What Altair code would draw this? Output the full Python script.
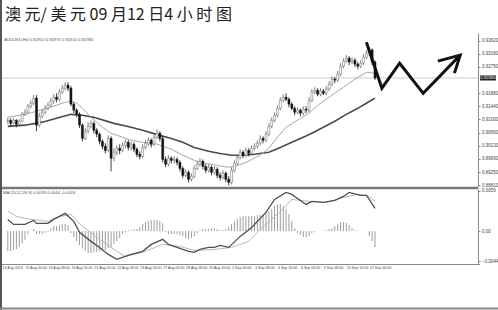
import altair as alt
import pandas as pd

# ---------------- text ----------------
title_text = "澳 元/ 美 元 09 月12 日4 小 时 图"
main_header = "AUDUSD,H4  0.92910 0.92970 0.92310 0.92380"
macd_header = "MACD(12,26,9) 0.0033 0.0044 -0.0024"
last_price = 0.9238
last_price_label = "0.92380"

# ---------------- candles (bar index 2..130) ----------------
bars = list(range(2, 131))
opens = [0.9094, 0.9097, 0.9087, 0.9097, 0.9084, 0.9094, 0.9117, 0.9124, 0.9144, 0.9154,
         0.9171, 0.9081, 0.9111, 0.9124, 0.9137, 0.9147, 0.9161, 0.9174, 0.9167, 0.9191,
         0.9204, 0.9214, 0.9204, 0.9151, 0.9131, 0.9117, 0.9081, 0.9037, 0.9061, 0.9077,
         0.9087, 0.9064, 0.9051, 0.9027, 0.9011, 0.8997, 0.9037, 0.8971, 0.8991, 0.9004,
         0.8997, 0.9014, 0.9024, 0.9007, 0.9017, 0.9001, 0.8984, 0.8977, 0.9007, 0.9021,
         0.9031, 0.9017, 0.9041, 0.9054, 0.9037, 0.8967, 0.8951, 0.8971, 0.8964, 0.8967,
         0.8957, 0.8937, 0.8914, 0.8924, 0.8901, 0.8911, 0.8937, 0.8951, 0.8961, 0.8944,
         0.8931, 0.8941, 0.8924, 0.8934, 0.8914, 0.8907, 0.8921, 0.8901, 0.8891, 0.8931,
         0.8954, 0.8974, 0.8991, 0.8981, 0.8997, 0.8987, 0.9004, 0.9011, 0.9021, 0.9037,
         0.9031, 0.9051, 0.9077, 0.9097, 0.9114, 0.9137, 0.9164, 0.9174, 0.9167, 0.9151,
         0.9137, 0.9124, 0.9131, 0.9121, 0.9134, 0.9131, 0.9164, 0.9191, 0.9197, 0.9184,
         0.9194, 0.9187, 0.9201, 0.9217, 0.9234, 0.9231, 0.9251, 0.9277, 0.9294, 0.9304,
         0.9291, 0.9297, 0.9284, 0.9277, 0.9287, 0.9307, 0.9321, 0.9331, 0.9291]
highs = [0.9107, 0.9104, 0.9104, 0.9101, 0.9101, 0.9124, 0.9134, 0.9151, 0.9164, 0.9181,
         0.9181, 0.9121, 0.9134, 0.9147, 0.9157, 0.9171, 0.9184, 0.9187, 0.9201, 0.9214,
         0.9224, 0.9224, 0.9211, 0.9157, 0.9137, 0.9124, 0.9087, 0.9071, 0.9091, 0.9097,
         0.9094, 0.9071, 0.9057, 0.9034, 0.9021, 0.9047, 0.9044, 0.9004, 0.9014, 0.9017,
         0.9024, 0.9034, 0.9031, 0.9027, 0.9024, 0.9007, 0.8994, 0.9017, 0.9031, 0.9041,
         0.9037, 0.9051, 0.9067, 0.9061, 0.9044, 0.8977, 0.8981, 0.8977, 0.8977, 0.8974,
         0.8964, 0.8944, 0.8934, 0.8931, 0.8921, 0.8947, 0.8961, 0.8971, 0.8967, 0.8951,
         0.8951, 0.8947, 0.8944, 0.8941, 0.8924, 0.8931, 0.8927, 0.8911, 0.8941, 0.8964,
         0.8984, 0.9001, 0.8997, 0.9007, 0.9004, 0.9014, 0.9021, 0.9031, 0.9047, 0.9044,
         0.9061, 0.9087, 0.9107, 0.9124, 0.9147, 0.9174, 0.9184, 0.9187, 0.9174, 0.9157,
         0.9144, 0.9141, 0.9137, 0.9144, 0.9144, 0.9174, 0.9201, 0.9207, 0.9204, 0.9204,
         0.9201, 0.9211, 0.9227, 0.9244, 0.9241, 0.9261, 0.9287, 0.9304, 0.9314, 0.9311,
         0.9307, 0.9304, 0.9291, 0.9297, 0.9317, 0.9331, 0.9341, 0.9337, 0.9297]
lows = [0.9084, 0.9077, 0.9084, 0.9074, 0.9081, 0.9091, 0.9111, 0.9121, 0.9137, 0.9147,
        0.9061, 0.9074, 0.9104, 0.9117, 0.9131, 0.9141, 0.9151, 0.9157, 0.9161, 0.9184,
        0.9197, 0.9194, 0.9144, 0.9121, 0.9107, 0.9071, 0.9027, 0.9031, 0.9054, 0.9071,
        0.9054, 0.9041, 0.9017, 0.9001, 0.8987, 0.8991, 0.8927, 0.8961, 0.8981, 0.8984,
        0.8991, 0.9004, 0.8997, 0.8997, 0.8991, 0.8974, 0.8967, 0.8971, 0.9001, 0.9011,
        0.9007, 0.9011, 0.9034, 0.9027, 0.8957, 0.8941, 0.8944, 0.8954, 0.8954, 0.8947,
        0.8927, 0.8904, 0.8907, 0.8891, 0.8894, 0.8904, 0.8931, 0.8944, 0.8934, 0.8921,
        0.8924, 0.8914, 0.8917, 0.8904, 0.8897, 0.8901, 0.8891, 0.8881, 0.8884, 0.8924,
        0.8947, 0.8967, 0.8971, 0.8974, 0.8977, 0.8981, 0.8997, 0.9004, 0.9014, 0.9021,
        0.9024, 0.9044, 0.9071, 0.9091, 0.9107, 0.9131, 0.9157, 0.9161, 0.9141, 0.9131,
        0.9114, 0.9117, 0.9111, 0.9114, 0.9121, 0.9124, 0.9157, 0.9184, 0.9177, 0.9177,
        0.9181, 0.9181, 0.9194, 0.9211, 0.9221, 0.9224, 0.9244, 0.9271, 0.9287, 0.9281,
        0.9284, 0.9274, 0.9267, 0.9271, 0.9281, 0.9301, 0.9311, 0.9281, 0.9231]
closes = [0.9097, 0.9087, 0.9097, 0.9084, 0.9094, 0.9117, 0.9124, 0.9144, 0.9154, 0.9171,
          0.9081, 0.9111, 0.9124, 0.9137, 0.9147, 0.9161, 0.9174, 0.9167, 0.9191, 0.9204,
          0.9214, 0.9204, 0.9151, 0.9131, 0.9117, 0.9081, 0.9037, 0.9061, 0.9077, 0.9087,
          0.9064, 0.9051, 0.9027, 0.9011, 0.8997, 0.9037, 0.8971, 0.8991, 0.9004, 0.8997,
          0.9014, 0.9024, 0.9007, 0.9017, 0.9001, 0.8984, 0.8977, 0.9007, 0.9021, 0.9031,
          0.9017, 0.9041, 0.9054, 0.9037, 0.8967, 0.8951, 0.8971, 0.8964, 0.8967, 0.8957,
          0.8937, 0.8914, 0.8924, 0.8901, 0.8911, 0.8937, 0.8951, 0.8961, 0.8944, 0.8931,
          0.8941, 0.8924, 0.8934, 0.8914, 0.8907, 0.8921, 0.8901, 0.8891, 0.8931, 0.8954,
          0.8974, 0.8991, 0.8981, 0.8997, 0.8987, 0.9004, 0.9011, 0.9021, 0.9037, 0.9031,
          0.9051, 0.9077, 0.9097, 0.9114, 0.9137, 0.9164, 0.9174, 0.9167, 0.9151, 0.9137,
          0.9124, 0.9131, 0.9121, 0.9134, 0.9131, 0.9164, 0.9191, 0.9197, 0.9184, 0.9194,
          0.9187, 0.9201, 0.9217, 0.9234, 0.9231, 0.9251, 0.9277, 0.9294, 0.9304, 0.9291,
          0.9297, 0.9284, 0.9277, 0.9287, 0.9307, 0.9321, 0.9331, 0.9291, 0.9238]
hist = [-0.00294, -0.00294, -0.00279, -0.00265, -0.00235, -0.00176, -0.00132, -0.00044, 0.0, 0.00029,
        -0.00044, -0.00044, -0.00044, -0.00029, -0.00015, 0.00044, 0.00074, 0.00074, 0.00088, 0.00103,
        0.00103, 0.00088, -0.00029, -0.00088, -0.00147, -0.00206, -0.0025, -0.00294, -0.00323, -0.00323,
        -0.00309, -0.00309, -0.00294, -0.00294, -0.00279, -0.0025, -0.00235, -0.00191, -0.00147, -0.00103,
        -0.00044, -0.00015, 0.00015, 0.00015, 0.00029, 0.00029, 0.00059, 0.00103, 0.00132, 0.00147,
        0.00162, 0.00162, 0.00162, 0.00147, 0.00118, -0.00015, -0.00044, -0.00044, -0.00044, -0.00044,
        -0.00059, -0.00074, -0.00103, -0.00118, -0.00103, -0.00074, -0.00029, 0.00015, 0.00029, 0.00029,
        0.00029, 0.00044, 0.00044, 0.00029, 0.00015, 0.00015, 0.00029, 0.00059, 0.00103, 0.00147,
        0.00176, 0.00206, 0.0022, 0.0022, 0.0022, 0.0022, 0.0022, 0.00235, 0.00235, 0.0025,
        0.00265, 0.00294, 0.00323, 0.00368, 0.00397, 0.00397, 0.00368, 0.00323, 0.0025, 0.00147,
        0.00044, -0.00029, -0.00059, -0.00088, -0.00088, -0.00074, -0.00029, -0.00015, 0.0, 0.0,
        0.00007, 0.00015, 0.00029, 0.00044, 0.00074, 0.00103, 0.00132, 0.00132, 0.00118, 0.00088,
        0.00044, 0.00015, 0.00007, 0.0, 0.0, 0.0, -0.00074, -0.00147, -0.00235]

# ---------------- moving averages ----------------
ma_fast_bar = [2, 8, 12, 17, 21, 24, 26, 28, 31, 35, 38, 42, 45, 49, 53, 56, 59, 63, 67, 71,
               75, 79, 82, 85, 90, 93, 96, 99, 104, 107, 110, 114, 119, 123, 127, 130]
ma_fast_val = [0.9107, 0.9117, 0.9127, 0.9141, 0.9154, 0.9161, 0.9154, 0.9137, 0.9107, 0.9074,
               0.9054, 0.9041, 0.9031, 0.9024, 0.9021, 0.9011, 0.9001, 0.8981, 0.8964, 0.8954,
               0.8947, 0.8941, 0.8947, 0.8957, 0.8981, 0.9004, 0.9041, 0.9074, 0.9104, 0.9121,
               0.9147, 0.9174, 0.9207, 0.9234, 0.9257, 0.9254]
ma_slow_bar = [2, 8, 14, 19, 24, 28, 32, 39, 45, 49, 55, 59, 63, 67, 72, 76, 80, 84, 88, 93,
               97, 101, 105, 108, 112, 116, 120, 124, 127, 130]
ma_slow_val = [0.9077, 0.9081, 0.9091, 0.9104, 0.9117, 0.9114, 0.9107, 0.9087, 0.9074, 0.9064,
               0.9047, 0.9037, 0.9024, 0.9007, 0.8994, 0.8987, 0.8981, 0.8981, 0.8984, 0.8991,
               0.9007, 0.9024, 0.9041, 0.9054, 0.9074, 0.9094, 0.9117, 0.9137, 0.9154, 0.9171]

# ---------------- MACD lines ----------------
macd_bar = [2, 4, 8, 11, 12, 16, 18, 20, 22, 25, 27, 31, 34, 37, 40, 43, 45, 49, 52, 56,
            58, 61, 65, 67, 69, 72, 74, 76, 79, 83, 87, 92, 95, 99, 101, 104, 106, 108, 112, 116,
            119, 121, 125, 127, 128, 130]
macd_val = [0.00172, 0.00098, 0.00098, 0.00157, 0.00113, 0.00113, 0.00172, 0.00216, 0.0026, 0.00143,
            -0.00019, -0.00151, -0.0024, -0.00343, -0.00416, -0.00372, -0.00343, -0.00298, -0.00196, -0.00122,
            -0.00196, -0.0024, -0.00298, -0.00313, -0.00269, -0.0024, -0.0024, -0.0021, -0.0024, -0.00078,
            0.00054, 0.00275, 0.00466, 0.00569, 0.0054, 0.00451, 0.00392, 0.00437, 0.00422, 0.00451,
            0.0051, 0.00569, 0.00525, 0.00525, 0.00466, 0.00334]
signal_bar = [2, 5, 10, 16, 20, 24, 28, 34, 40, 43, 49, 56, 62, 67, 74, 80, 86, 90, 97, 101,
              107, 113, 119, 124, 128, 130]
signal_val = [0.0029, 0.00216, 0.00172, 0.00143, 0.00216, 0.00245, 0.00069, -0.00122, -0.00298, -0.00372,
              -0.00313, -0.00196, -0.00225, -0.00284, -0.00269, -0.0024, -0.00151, 0.00025, 0.0029, 0.00466,
              0.00437, 0.00422, 0.00495, 0.0054, 0.0051, 0.00437]

# ---------------- axes ----------------
# (the 0.92310 level is hidden under the current-price tag in the reference)
price_ticks = [0.9362, 0.9318, 0.9275, 0.9188, 0.9144, 0.9100, 0.9056, 0.9013, 0.8969, 0.8925, 0.8881]
macd_ticks = [0.0059, 0.0, -0.0044]
x_label_bars = [0, 8, 16, 24, 32, 40, 48, 56, 64, 72, 80, 88, 96, 104, 112, 120, 128]
x_label_text = ["13 Aug 2013", "15 Aug 00:00", "16 Aug 08:00", "19 Aug 16:00", "21 Aug 00:00",
                "22 Aug 08:00", "23 Aug 16:00", "27 Aug 00:00", "28 Aug 08:00", "29 Aug 16:00",
                "2 Sep 00:00", "3 Sep 08:00", "4 Sep 16:00", "6 Sep 00:00", "9 Sep 08:00",
                "10 Sep 16:00", "12 Sep 00:00"]

# ---------------- hand-drawn zigzag arrow ----------------
zz_bar = [127.0, 132.4, 138.6, 146.8, 159.7, 151.9, 159.7, 157.7]
zz_price = [0.9357, 0.9204, 0.9287, 0.9187, 0.9314, 0.9294, 0.9314, 0.9254]
zz_seg = ["zig", "zig", "zig", "zig", "zig", "head", "head", "head"]
zz_ord = [0, 1, 2, 3, 4, 5, 6, 7]

# ================= chart =================
W, H = 478, 231
FONT = "Liberation Sans"

xs = alt.Scale(domain=[1.024, 164.164], nice=False, zero=False)
X = alt.X("bar:Q", scale=xs, axis=None)

ys_main = alt.Scale(domain=[0.88753, 0.93876], range=[154, 0], nice=False, zero=False)
ys_macd = alt.Scale(domain=[-0.00484, 0.00619], range=[231, 156], nice=False, zero=False)

ax_main = alt.Axis(orient="right", values=price_ticks, format=".5f", title=None, grid=False,
                   tickSize=2, labelFontSize=4.5, labelFont=FONT, labelColor="#444444",
                   domainColor="#8a8a8a", tickColor="#8a8a8a", labelPadding=1.5,
                   labelOverlap=False, labelFlush=False)
ax_macd = alt.Axis(orient="right", values=macd_ticks, title=None, grid=False,
                   labelExpr="datum.value == 0 ? '0.00' : format(datum.value, '.4f')",
                   tickSize=2, labelFontSize=4.5, labelFont=FONT, labelColor="#444444",
                   domainColor="#8a8a8a", tickColor="#8a8a8a", labelPadding=1.5,
                   labelOverlap=False, labelFlush=False)


def ymain(field):
    return alt.Y(field, type="quantitative", scale=ys_main, axis=ax_main)


def ymacd(field):
    return alt.Y(field, type="quantitative", scale=ys_macd, axis=ax_macd)


df = pd.DataFrame({"bar": bars, "o": opens, "h": highs, "l": lows, "c": closes, "hist": hist})
base = alt.Chart(df)
bear = "datum.c < datum.o"

price_line = alt.Chart(pd.DataFrame({"p": [last_price]})).mark_rule(
    color="#cfcfcf", strokeWidth=1).encode(y=ymain("p"), x=alt.value(0), x2=alt.value(W))

ma_slow = alt.Chart(pd.DataFrame({"bar": ma_slow_bar, "v": ma_slow_val})).mark_line(
    color="#4a4a4a", strokeWidth=1.6).encode(x=X, y=ymain("v"))
ma_fast = alt.Chart(pd.DataFrame({"bar": ma_fast_bar, "v": ma_fast_val})).mark_line(
    color="#a8a8a8", strokeWidth=1).encode(x=X, y=ymain("v"))

wick = base.mark_rule(strokeWidth=0.8).encode(
    x=X, y=ymain("l"), y2="h",
    color=alt.condition(bear, alt.value("#111111"), alt.value("#666666")))
body = base.mark_bar(width=2, strokeWidth=0.5).encode(
    x=X, y=ymain("o"), y2="c",
    fill=alt.condition(bear, alt.value("#111111"), alt.value("#ffffff")),
    stroke=alt.condition(bear, alt.value("#111111"), alt.value("#666666")))

zz = alt.Chart(pd.DataFrame({"bar": zz_bar, "p": zz_price, "seg": zz_seg, "ord": zz_ord})).mark_line(
    color="#111111", strokeWidth=3, strokeJoin="miter", strokeCap="butt").encode(
    x=X, y=ymain("p"), detail="seg:N", order="ord:Q")

tag_df = pd.DataFrame({"p": [last_price], "t": [last_price_label]})
tag = alt.Chart(tag_df).mark_rule(color="#222222", strokeWidth=5).encode(
    y=ymain("p"), x=alt.value(W + 2), x2=alt.value(W + 18))
tag_text = alt.Chart(tag_df).mark_text(color="#ffffff", fontSize=4.3, font=FONT,
                                       align="center", baseline="middle").encode(
    y=ymain("p"), x=alt.value(W + 10), text="t:N")

main_hdr = alt.Chart(pd.DataFrame({"t": [main_header]})).mark_text(
    align="left", baseline="middle", fontSize=4.2, font=FONT, color="#555555").encode(
    x=alt.value(4), y=alt.value(7), text="t:N")

main = alt.layer(price_line, ma_slow, ma_fast, wick, body, zz, tag, tag_text, main_hdr)

hist_rule = base.mark_rule(color="#9c9c9c", strokeWidth=1).encode(
    x=X, y=ymacd("hist"), y2=alt.datum(0))
sig_line = alt.Chart(pd.DataFrame({"bar": signal_bar, "v": signal_val})).mark_line(
    color="#b8b8b8", strokeWidth=1).encode(x=X, y=ymacd("v"))
macd_line = alt.Chart(pd.DataFrame({"bar": macd_bar, "v": macd_val})).mark_line(
    color="#505050", strokeWidth=1.3).encode(x=X, y=ymacd("v"))
macd_hdr = alt.Chart(pd.DataFrame({"t": [macd_header]})).mark_text(
    align="left", baseline="middle", fontSize=4.2, font=FONT, color="#555555").encode(
    x=alt.value(3), y=alt.value(160), text="t:N")

macd = alt.layer(hist_rule, sig_line, macd_line, macd_hdr)

one = pd.DataFrame({"k": [0]})
sep = alt.Chart(one).mark_rule(color="#7a7a7a", strokeWidth=2.5).encode(
    x=alt.value(0), x2=alt.value(W), y=alt.value(155))
macd_bottom = alt.Chart(one).mark_rule(color="#8a8a8a", strokeWidth=1.2).encode(
    x=alt.value(0), x2=alt.value(W + 2), y=alt.value(231.5))
left_border = alt.Chart(one).mark_rule(color="#555555", strokeWidth=2).encode(
    x=alt.value(1), y=alt.value(-33), y2=alt.value(277))
bottom_border = alt.Chart(one).mark_rule(color="#888888", strokeWidth=2).encode(
    x=alt.value(0), x2=alt.value(498), y=alt.value(275.5))
xlabels = alt.Chart(pd.DataFrame({"bar": x_label_bars, "t": x_label_text})).mark_text(
    align="left", baseline="middle", fontSize=3.6, font=FONT, color="#444444", dx=0.5).encode(
    x=X, y=alt.value(235), text="t:N")
title = alt.Chart(pd.DataFrame({"t": [title_text]})).mark_text(
    align="left", baseline="middle", fontSize=16, font="Noto Sans CJK SC", color="#222222").encode(
    x=alt.value(5), y=alt.value(-18), text="t:N")

deco = alt.layer(sep, macd_bottom, left_border, bottom_border, xlabels, title)

chart = alt.layer(main, macd, deco).resolve_scale(y="independent").properties(
    width=W, height=H,
    padding={"left": 0, "top": 33, "right": 20, "bottom": 46},
    autosize=alt.AutoSizeParams(type="none"),
    background="white",
).configure_view(strokeWidth=0)

chart.save("out.html", embed_options={"renderer": "svg", "actions": False})
